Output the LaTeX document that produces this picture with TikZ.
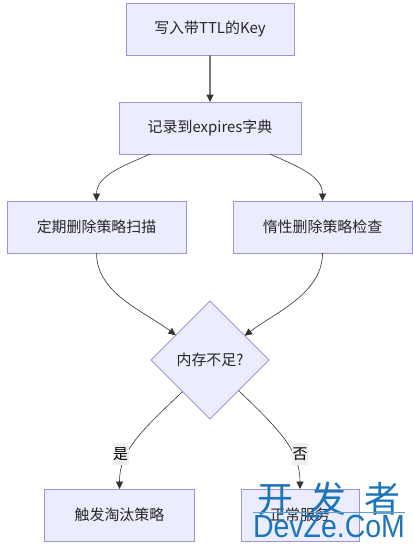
\documentclass[tikz,border=0pt]{standalone}
\usepackage{fontspec}
\setmainfont{Noto Sans CJK SC}
\newfontfamily\wmfont[FakeStretch=0.89]{Liberation Sans}
\usetikzlibrary{positioning,shapes.geometric,arrows.meta}
\definecolor{nodefill}{HTML}{ECECFF}
\definecolor{nodeline}{HTML}{9F93D6}
\definecolor{flowcolor}{HTML}{333333}
\definecolor{labelfill}{HTML}{EFEFEF}
\definecolor{markcolor}{HTML}{1B75BC}
\tikzset{
  flowbox/.style={draw=nodeline,fill=nodefill,line width=0.7pt,minimum height=39pt,inner sep=0pt,outer sep=0pt,text=black!85},
  flowline/.style={draw=flowcolor,line width=0.45pt,-{Triangle[length=5.5pt,width=5.2pt,color=flowcolor]}},
  flowlabel/.style={fill=labelfill,inner sep=0pt,minimum height=16.5pt,minimum width=12pt}
}
\begin{document}
\begin{tikzpicture}[font=\fontsize{11.2}{14}\selectfont]
  \useasboundingbox (-157.5pt,21.75pt) rectangle (151.5pt,-389.25pt);
  \node[flowbox,minimum width=126pt] (a) at (0,0) {写入带TTL的Key};
  \node[flowbox,minimum width=136.5pt] (b) [below=35.25pt of a] {记录到expires字典};
  \node[flowbox,minimum width=134.25pt] (c) [below=35.25pt of b,xshift=-85.1pt] {定期删除策略扫描};
  \node[flowbox,minimum width=134.25pt] (d) [below=35.25pt of b,xshift=84.4pt] {惰性删除策略检查};
  \node[flowbox,diamond,aspect=1,minimum width=88.5pt,minimum height=88.5pt] (mem) [below=36pt of c,xshift=85.1pt] {内存不足?};
  \node[flowbox,minimum width=111.75pt] (e) [below=52.5pt of mem,xshift=-67.9pt] {触发淘汰策略};
  \node[flowbox,minimum width=88.5pt] (f) [below=52.5pt of mem,xshift=67.5pt] {正常服务};

  \draw[flowline,draw=flowcolor!65,line width=0.8pt] (a) -- (b);
  \draw[flowline] ([xshift=-45pt]b.south) to[out=205,in=90,looseness=0.95] (c.north);
  \draw[flowline] ([xshift=45pt]b.south) to[out=-25,in=90,looseness=0.95] (d.north);
  \draw[flowline] (c.south) to[out=-90,in=143,looseness=0.9] (mem.144);
  \draw[flowline] (d.south) to[out=-90,in=37,looseness=0.9] (mem.35);
  \draw[flowline] (mem.229) .. controls +(-31.5pt,-30pt) and ([yshift=28.5pt]e.north) .. node[flowlabel,pos=0.65,xshift=-5pt] {是} (e.north);
  \draw[flowline] (mem.-47) .. controls +(31.5pt,-30pt) and ([yshift=28.5pt]f.north) .. node[flowlabel,pos=0.65,xshift=5.5pt] {否} (f.north);

  % watermark
  \node[text=markcolor,font=\fontsize{27}{28}\selectfont,inner sep=0pt] (mark) at (89.25pt,-352pt) {开\hspace{0.5em}发\hspace{0.5em}者};
  \node[text=markcolor,font=\wmfont\fontsize{24}{26}\selectfont,inner sep=0pt] (site) at (89.25pt,-372.75pt) {DevZe.CoM};
  \draw[markcolor!70,line width=0.5pt] ([yshift=1.5pt]site.north west) -- ([yshift=1.5pt]site.north east);
\end{tikzpicture}
\end{document}
